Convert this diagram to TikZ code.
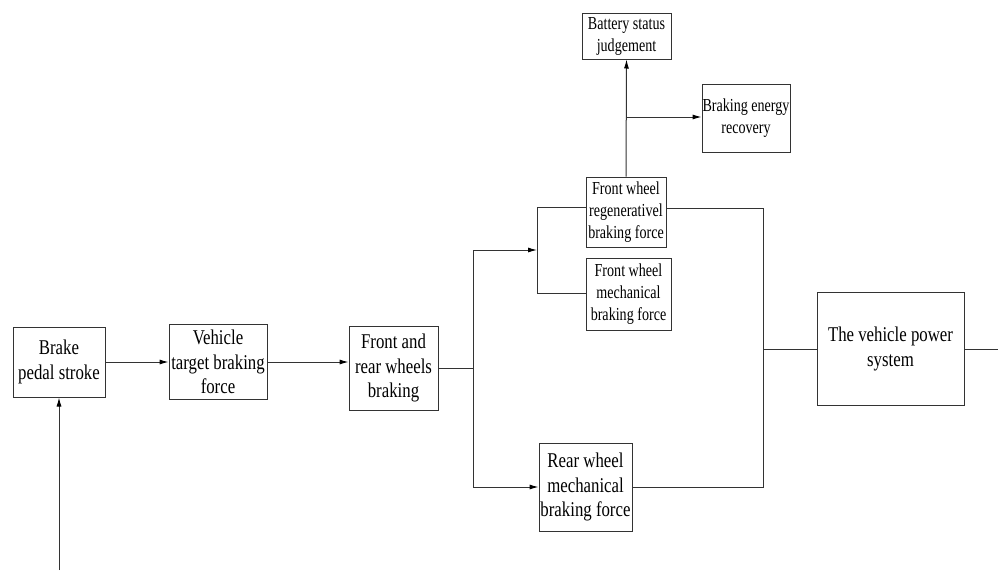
\documentclass[tikz,border=0pt]{standalone}
\usepackage{fontspec}
\usetikzlibrary{arrows.meta}
\newfontfamily\bigf[FakeStretch=0.8]{Liberation Serif}
\newfontfamily\smallf[FakeStretch=0.77]{Liberation Serif}
\tikzset{
  blk/.style={draw=black!80, line width=1pt, inner sep=0pt, align=center},
  bigbox/.style={blk, font=\bigf\fontsize{21}{24.5}\selectfont},
  smallbox/.style={blk, font=\smallf\fontsize{18.3}{22}\selectfont},
  ln/.style={draw=black!80, line width=1pt},
  arr/.style={ln, -{Latex[length=9pt,width=5pt,black]}}
}
\begin{document}
\begin{tikzpicture}[x=1pt,y=-1pt]
\useasboundingbox (0,0) rectangle (998,570);
\node[bigbox, minimum width=92pt, minimum height=70pt] (pedal) at (59,362) {Brake\\pedal stroke};
\node[bigbox, minimum width=98pt, minimum height=75pt] (target) at (218,362) {Vehicle\\target braking\\force};
\node[bigbox, minimum width=89pt, minimum height=84pt] (fr) at (393.5,368) {Front and\\rear wheels\\braking};
\node[smallbox, minimum width=80pt, minimum height=70pt] (regen) at (626,212) {Front wheel\\regenerativel\\braking force};
\node[smallbox, minimum width=85pt, minimum height=72pt] (mech) at (628.5,294) {Front wheel\\mechanical\\braking force};
\node[bigbox, minimum width=93pt, minimum height=88pt] (rear) at (585.5,487) {Rear wheel\\mechanical\\braking force};
\node[bigbox, minimum width=147pt, minimum height=113pt] (power) at (890.5,349) {The vehicle power\\system};
\node[smallbox, minimum width=89pt, minimum height=46pt] (battery) at (626.5,36) {Battery status\\judgement};
\node[smallbox, minimum width=88pt, minimum height=68pt] (energy) at (746,118) {Braking energy\\recovery};

\coordinate (in0) at (59,570);
\coordinate (j1) at (473,368);
\coordinate (jup) at (473,250);
\coordinate (a1) at (537,250);
\coordinate (b1) at (537,207);
\coordinate (b2) at (537,293);
\coordinate (r1) at (763,208);
\coordinate (r2) at (763,487);
\coordinate (r3) at (763,349);
\coordinate (t1) at (626,117);
\coordinate (out) at (998,349);

\draw[arr] (in0) -- (pedal.south);
\draw[arr] (pedal.east) -- (target.west);
\draw[arr] (target.east) -- (target.east -| fr.west);
\draw[ln] (fr.east) -- (j1) -- (jup);
\draw[arr] (jup) -- (a1);
\draw[ln] (b1) -- (b2);
\draw[ln] (b1) -- (b1 -| regen.west);
\draw[ln] (b2) -- (b2 -| mech.west);
\draw[arr] (j1) |- (rear.west);
\draw[ln] (r1 -| regen.east) -- (r1) -- (r2) -- (r2 -| rear.east);
\draw[ln] (r3) -- (power.west);
\draw[ln] (power.east) -- (out);
\draw[arr] (regen.north) -- (battery.south);
\draw[arr] (t1) -- (t1 -| energy.west);
\end{tikzpicture}
\end{document}
